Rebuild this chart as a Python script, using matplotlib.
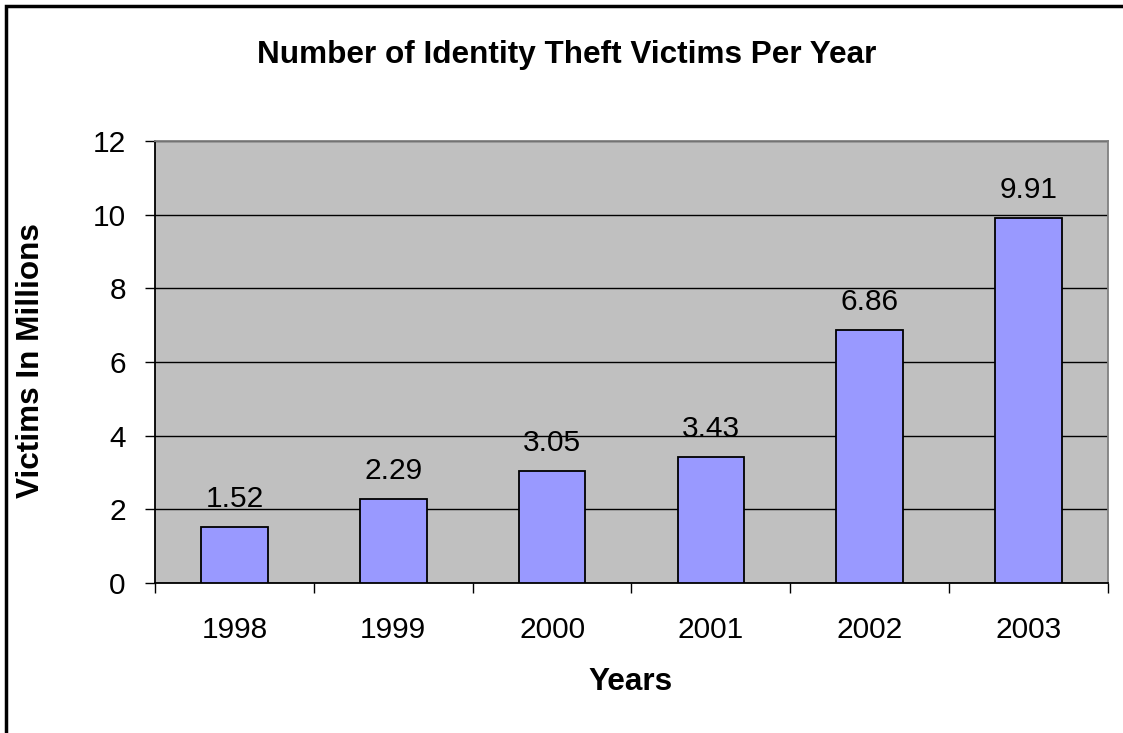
"""
Identity theft victims per year - bar chart in the old Excel style.
"""
import matplotlib.pyplot as plt
from matplotlib.patches import Rectangle
import numpy as np

# ── Data ──────────────────────────────────────────────────────────────────────
years = ["1998", "1999", "2000", "2001", "2002", "2003"]
victims = [1.52, 2.29, 3.05, 3.43, 6.86, 9.91]
value_labels = ["1.52", "2.29", "3.05", "3.43", "6.86", "9.91"]

plt.rcParams["font.family"] = ["Liberation Sans", "DejaVu Sans"]

# ── Plot ──────────────────────────────────────────────────────────────────────
fig = plt.figure(figsize=(11.23, 7.33), dpi=100)
W, H = 1123, 733
ax = fig.add_axes([155 / W, 1 - 583 / H, (1108 - 155) / W, (583 - 141) / H])

x = np.arange(len(years))
ax.bar(x, victims, width=0.42, color="#9999FF", edgecolor="black",
       linewidth=1.3, zorder=3)

for xi, v, lab in zip(x, victims, value_labels):
    ax.annotate(lab, (xi, v), xytext=(0, 14.5), textcoords="offset points",
                ha="center", va="baseline", fontsize=21.5, zorder=4)

ax.set_facecolor("#C0C0C0")
ax.set_xlim(-0.5, len(years) - 0.5)
ax.set_ylim(0, 12)
ax.set_yticks(range(0, 13, 2))
ax.grid(axis="y", color="black", linewidth=1, zorder=1)

# category boundaries get the tick marks, labels sit in between
ax.set_xticks(np.arange(-0.5, len(years), 1))
ax.set_xticklabels([])
ax.set_xticks(x, minor=True)
ax.set_xticklabels(years, minor=True, fontsize=21.5)
ax.tick_params(axis="x", which="major", direction="out", length=7, width=1)
ax.tick_params(axis="x", which="minor", length=0, pad=24)
ax.tick_params(axis="y", direction="out", length=7, width=1, pad=14,
               labelsize=21.5)

for s in ["top", "right"]:
    ax.spines[s].set_color("#808080")
    ax.spines[s].set_linewidth(1.3)
for s in ["left", "bottom"]:
    ax.spines[s].set_color("black")
    ax.spines[s].set_linewidth(1.3)

fig.text(567 / W, 1 - 55 / H, "Number of Identity Theft Victims Per Year",
         ha="center", va="center", fontsize=22.7, fontweight="bold")
fig.text(631 / W, 1 - 682 / H, "Years", ha="center", va="center",
         fontsize=22.7, fontweight="bold")
fig.text(31 / W, 1 - 361 / H, "Victims In Millions", ha="center",
         va="center", rotation=90, fontsize=22.7, fontweight="bold")

# outer chart frame (open on the right and bottom edges)
fig.patches.append(Rectangle((6 / W, -0.1), 1.2, 1 - 6 / H + 0.1,
                             transform=fig.transFigure, fill=False,
                             edgecolor="black", linewidth=2.5))

fig.savefig("out.png", dpi=100)
